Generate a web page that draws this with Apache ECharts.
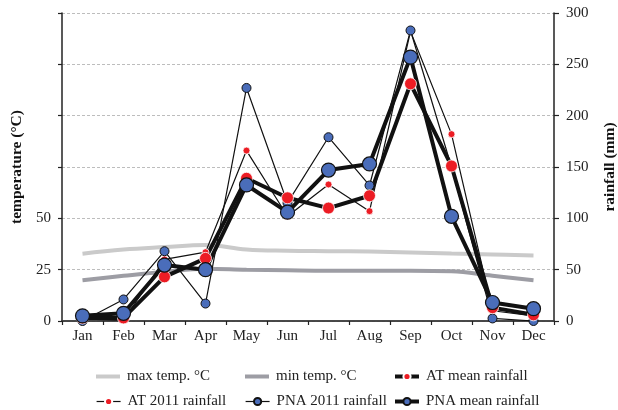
<!DOCTYPE html>
<html>
<head>
<meta charset="utf-8">
<script src="https://cdn.jsdelivr.net/npm/echarts@6/dist/echarts.min.js"></script>
<style>html,body{margin:0;padding:0;background:#fff;}#c{width:618px;height:410px;}</style>
</head>
<body>
<div id="c"></div>
<script>
var months = ['Jan','Feb','Mar','Apr','May','Jun','Jul','Aug','Sep','Oct','Nov','Dec'];
var maxTemp = [32.8, 34.8, 36.0, 37.0, 34.8, 34.2, 34.0, 33.8, 33.4, 32.9, 32.4, 31.9];
var minTemp = [19.8, 22.0, 24.0, 25.5, 25.0, 24.7, 24.5, 24.5, 24.5, 24.2, 22.0, 19.9];
var atMean  = [3, 3, 43, 61, 139, 120, 110, 122, 231, 151, 13, 6];
var at2011  = [2, 0.5, 60, 67, 166, 102, 133, 107, 282, 182, 10, 5];
var pna2011 = [0, 21, 68, 17, 227, 115, 179, 132, 283, 150, 2.5, 0];
var pnaMean = [5, 7.5, 54.5, 50, 132.5, 106, 147, 153, 257, 102, 18, 12];
var leftTicks = ['0','25','50'];

var RED = '#ec1c24', BLUE = '#4a6dba';
var FONT = '"Liberation Serif","DejaVu Serif",serif';

function leg(name, left, top, opts) {
  return Object.assign({
    data: [name], left: left, top: top, orient: 'horizontal',
    itemWidth: 24, itemHeight: 9, itemGap: 0, padding: 0, selectedMode: false,
    textStyle: {fontFamily: FONT, fontSize: 15, color: '#222', padding: [0, 0, 0, 2]}
  }, opts || {});
}

var chart = echarts.init(document.getElementById('c'));
chart.setOption({
  animation: false,
  backgroundColor: '#fff',
  grid: {left: 62, right: 64, top: 13, bottom: 89, outerBoundsMode: 'none', containLabel: false},
  legend: [
    leg('max temp. °C', 96, 369, {icon: 'rect', itemHeight: 4}),
    leg('min temp. °C', 245, 369, {icon: 'rect', itemHeight: 4}),
    leg('AT mean rainfall', 393, 369, {lineStyle: {width: 4}}),
    leg('AT 2011 rainfall', 96, 394, {lineStyle: {width: 1.2}}),
    leg('PNA 2011 rainfall', 245, 394, {lineStyle: {width: 1.2}}),
    leg('PNA mean rainfall', 393, 394, {lineStyle: {width: 4}})
  ],
  xAxis: [{
    type: 'category', data: months, boundaryGap: true,
    axisLine: {lineStyle: {color: '#222', width: 1.5}},
    axisTick: {show: true, length: 4, lineStyle: {color: '#222', width: 1.2}},
    axisLabel: {fontFamily: FONT, fontSize: 15, color: '#222', margin: 8}
  }, {
    type: 'category', data: months, position: 'top',
    axisLine: {lineStyle: {color: '#444', width: 1.5}},
    axisTick: {show: false}, axisLabel: {show: false}
  }],
  yAxis: [{
    type: 'value', min: 0, max: 150, interval: 25,
    name: 'temperature (°C)', nameLocation: 'middle', nameGap: 35, nameRotate: 90,
    nameTextStyle: {fontFamily: FONT, fontSize: 15.5, fontWeight: 'bold', color: '#111'},
    axisLine: {show: true, lineStyle: {color: '#222', width: 1.5}},
    axisTick: {show: true, length: 4, lineStyle: {color: '#222', width: 1.2}},
    axisLabel: {fontFamily: FONT, fontSize: 15, color: '#222', margin: 11,
      formatter: function (v) { return leftTicks.indexOf(String(v)) >= 0 ? String(v) : ''; }},
    splitLine: {show: true, lineStyle: {color: '#bdbdbd', type: [3, 2], width: 1}}
  }, {
    type: 'value', min: 0, max: 300, interval: 50, position: 'right',
    name: 'rainfall (mm)', nameLocation: 'middle', nameGap: 48, nameRotate: 90,
    nameTextStyle: {fontFamily: FONT, fontSize: 15.5, fontWeight: 'bold', color: '#111'},
    axisLine: {show: true, lineStyle: {color: '#222', width: 1.5}},
    axisTick: {show: true, length: 5, lineStyle: {color: '#222', width: 1.2}},
    axisLabel: {fontFamily: FONT, fontSize: 15, color: '#222', margin: 12},
    splitLine: {show: false}
  }],
  series: [{
    name: 'max temp. °C', type: 'line', yAxisIndex: 0, data: maxTemp, smooth: 0.4,
    symbol: 'none', lineStyle: {color: '#cacaca', width: 4}, itemStyle: {color: '#cacaca'}
  }, {
    name: 'min temp. °C', type: 'line', yAxisIndex: 0, data: minTemp, smooth: 0.4,
    symbol: 'none', lineStyle: {color: '#9d9da4', width: 4}, itemStyle: {color: '#9d9da4'}
  }, {
    name: 'AT 2011 rainfall', type: 'line', yAxisIndex: 1, data: at2011,
    symbol: 'circle', symbolSize: 7, showAllSymbol: true,
    lineStyle: {color: '#111', width: 1.2},
    itemStyle: {color: RED, borderColor: '#fff', borderWidth: 0.8}
  }, {
    name: 'PNA 2011 rainfall', type: 'line', yAxisIndex: 1, data: pna2011,
    symbol: 'circle', symbolSize: 9, showAllSymbol: true,
    lineStyle: {color: '#111', width: 1.2},
    itemStyle: {color: BLUE, borderColor: '#111', borderWidth: 1}
  }, {
    name: 'AT mean rainfall', type: 'line', yAxisIndex: 1, data: atMean,
    symbol: 'circle', symbolSize: 12, showAllSymbol: true,
    lineStyle: {color: '#111', width: 4},
    itemStyle: {color: RED, borderColor: '#fff', borderWidth: 0.8}
  }, {
    name: 'PNA mean rainfall', type: 'line', yAxisIndex: 1, data: pnaMean,
    symbol: 'circle', symbolSize: 14, showAllSymbol: true,
    lineStyle: {color: '#111', width: 4},
    itemStyle: {color: BLUE, borderColor: '#111', borderWidth: 1.2}
  }]
});
</script>
</body>
</html>
